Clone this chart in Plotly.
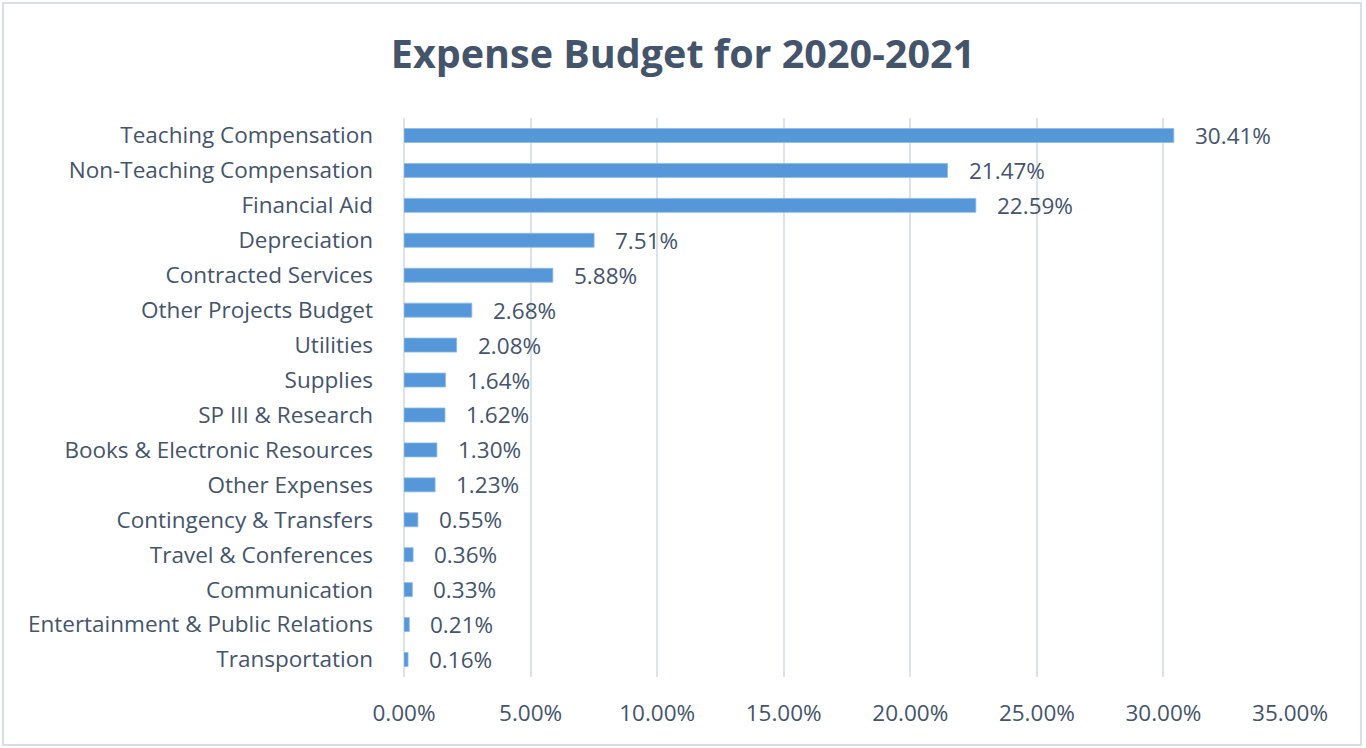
import plotly.graph_objects as go

categories = [
    "Teaching Compensation",
    "Non-Teaching Compensation",
    "Financial Aid",
    "Depreciation",
    "Contracted Services",
    "Other Projects Budget",
    "Utilities",
    "Supplies",
    "SP III & Research",
    "Books & Electronic Resources",
    "Other Expenses",
    "Contingency & Transfers",
    "Travel & Conferences",
    "Communication",
    "Entertainment & Public Relations",
    "Transportation",
]
values = [0.3041, 0.2147, 0.2259, 0.0751, 0.0588, 0.0268, 0.0208, 0.0164,
          0.0162, 0.0130, 0.0123, 0.0055, 0.0036, 0.0033, 0.0021, 0.0016]
tick_vals = [0, 0.05, 0.10, 0.15, 0.20, 0.25, 0.30, 0.35]

TXT = "#44546A"
FONT = "Open Sans"
FS = 22.5

fig = go.Figure(go.Bar(
    x=values, y=categories, orientation="h",
    marker=dict(color="#5597D8", line=dict(color="#8DBBE6", width=0.8)),
    width=0.4,
    hoverinfo="x+y",
))

annotations = [
    dict(x=v, y=c, xref="x", yref="y", text=f"{v*100:.2f}%", showarrow=False,
         xanchor="left", xshift=19, font=dict(family=FONT, size=FS, color=TXT))
    for c, v in zip(categories, values)
]

fig.update_layout(
    width=1366, height=748,
    paper_bgcolor="white", plot_bgcolor="white",
    margin=dict(l=404, r=76, t=118, b=71),
    title=dict(text="<b>Expense Budget for 2020-2021</b>", x=0.5, xanchor="center",
               y=0.927, yanchor="middle",
               font=dict(family=FONT, size=39.5, color=TXT)),
    showlegend=False,
    annotations=annotations,
    shapes=[dict(type="rect", xref="paper", yref="paper",
                 x0=-0.4526, x1=1.0801, y0=-0.1216, y1=1.2057,
                 line=dict(color="#D9DEE6", width=2), layer="below")],
)
fig.update_xaxes(
    range=[0, 0.35], tickvals=tick_vals, tickformat=".2%",
    showgrid=True, gridcolor="#DDE1E8", gridwidth=1.5,
    zeroline=True, zerolinecolor="#DDE1E8", zerolinewidth=1.5,
    showline=False, ticks="",
    tickfont=dict(family=FONT, size=FS, color=TXT), ticklabelstandoff=20,
)
fig.update_yaxes(
    categoryorder="array", categoryarray=categories[::-1],
    showgrid=False, showline=False, ticks="",
    tickfont=dict(family=FONT, size=FS, color=TXT), ticklabelstandoff=30,
)

fig.write_html("out.html", config={"displayModeBar": False},
               post_script="document.body.style.margin='0';")
